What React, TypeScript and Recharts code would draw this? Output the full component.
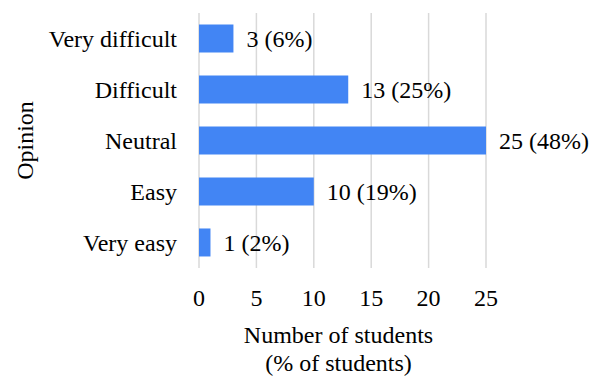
import React from "react";
import { BarChart, Bar, XAxis, YAxis, CartesianGrid, LabelList } from "recharts";

const categories = ["Very difficult", "Difficult", "Neutral", "Easy", "Very easy"];
const counts = [3, 13, 25, 10, 1];
const percents = [6, 25, 48, 19, 2];
const xTicks = [0, 5, 10, 15, 20, 25];

const data = categories.map((c, i) => ({ name: c, value: counts[i], pct: percents[i] }));

const FONT = "Liberation Serif";

const XLabel = (props: any) => {
  const vb = props.viewBox || {};
  const cx = vb.x + vb.width / 2 - 4;
  return (
    <g>
      <text x={cx} y={343} textAnchor="middle" fontSize={24} style={{ fontFamily: FONT }} fill="#000">
        Number of students
      </text>
      <text x={cx} y={371} textAnchor="middle" fontSize={24} style={{ fontFamily: FONT }} fill="#000">
        (% of students)
      </text>
    </g>
  );
};

const YLabel = (props: any) => {
  const vb = props.viewBox || {};
  const cy = vb.y + vb.height / 2;
  return (
    <text
      x={33}
      y={cy}
      textAnchor="middle"
      fontSize={24}
      style={{ fontFamily: FONT }}
      fill="#000"
      transform={`rotate(-90, 33, ${cy})`}
    >
      Opinion
    </text>
  );
};

export default function App() {
  return (
    <div style={{ position: "absolute", left: 0, top: 0, width: 602, height: 381, background: "#fff", fontFamily: FONT }}>
      <BarChart
        width={602}
        height={381}
        data={data}
        layout="vertical"
        margin={{ top: 13, right: 116, bottom: 83, left: 0 }}
        barCategoryGap="22.5%"
        style={{ fontFamily: FONT }}
      >
        <CartesianGrid horizontal={false} vertical={true} stroke="#d9d9d9" strokeWidth={1.5} />
        <XAxis
          type="number"
          domain={[0, 25]}
          ticks={xTicks}
          height={30}
          axisLine={false}
          tickLine={false}
          tickSize={0}
          tickMargin={21}
          tick={{ fontSize: 24, fontFamily: FONT, fill: "#000" }}
          label={<XLabel />}
        />
        <YAxis
          type="category"
          dataKey="name"
          width={199}
          axisLine={false}
          tickLine={false}
          tickSize={0}
          tickMargin={22}
          tick={{ fontSize: 24, fontFamily: FONT, fill: "#000" }}
          label={<YLabel />}
        />
        <Bar dataKey="value" fill="#4285F4" isAnimationActive={false}>
          <LabelList
            dataKey="value"
            position="right"
            offset={13}
            content={(p: any) => {
              const d = data[p.index];
              return (
                <text
                  x={p.x + p.width + 13}
                  y={p.y + p.height / 2}
                  dy="0.355em"
                  fontSize={24}
                  style={{ fontFamily: FONT }}
                  fill="#000"
                  textAnchor="start"
                >
                  {`${d.value} (${d.pct}%)`}
                </text>
              );
            }}
          />
        </Bar>
      </BarChart>
    </div>
  );
}
